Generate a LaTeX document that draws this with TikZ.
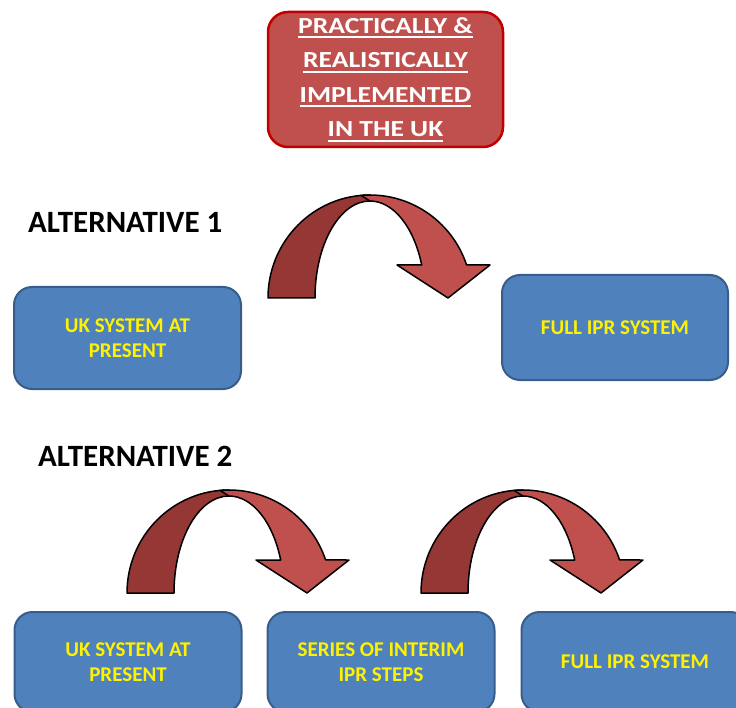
\documentclass[tikz,border=0pt]{standalone}
\usepackage{fontspec}
\setmainfont{Carlito}
\newfontfamily\widefont{Carlito}[FakeStretch=1.2]
\newcommand{\ulbar}[1]{\leavevmode\vtop{\hbox{#1}\kern3pt\hrule height 1.8pt}}
\definecolor{boxblue}{HTML}{4F81BD}
\definecolor{boxedge}{HTML}{385D8A}
\definecolor{goalred}{HTML}{C0504D}
\definecolor{goaledge}{HTML}{C00000}
\definecolor{arrowdark}{HTML}{953735}
\definecolor{arrowlight}{HTML}{C0504D}
\begin{document}
\begin{tikzpicture}[x=1pt, y=-1pt,
    bluebox/.style={draw=boxedge, line width=2pt, fill=boxblue, rounded corners=18pt,
      minimum width=227pt, minimum height=102pt, align=center, text=yellow,
      font=\fontsize{21}{25}\selectfont\bfseries},
    redbox/.style={draw=goaledge, line width=2.5pt, fill=goalred, rounded corners=20pt,
      minimum width=235pt, minimum height=135pt, align=center, text=white,
      font=\widefont\fontsize{23}{34.5}\selectfont\bfseries},
    altlabel/.style={anchor=west, inner sep=0pt, font=\fontsize{31}{37}\selectfont\bfseries},
    bandedge/.style={draw=black, line width=1.5pt, line join=round}]
  \useasboundingbox (0,0) rectangle (736,708);
  \clip (0,0) rectangle (736,708);

  % heading
  \node (goal) [redbox] at (385.5,79.5)
    {\ulbar{PRACTICALLY \&}\\ \ulbar{REALISTICALLY}\\ \ulbar{IMPLEMENTED}\\ \ulbar{IN THE UK}};

  % alternative 1
  \node (alt1) [altlabel] at (28,222) {ALTERNATIVE 1};
  \node (now1) [bluebox] at (127.5,338) {UK SYSTEM AT\\ PRESENT};
  \node (full1) [bluebox, minimum height=105pt, minimum width=226pt] at (615,327.5) {FULL IPR SYSTEM};

  % alternative 2
  \node (alt2) [altlabel] at (38,456) {ALTERNATIVE 2};
  \node (now2) [bluebox, minimum height=100pt] at (128,662) {UK SYSTEM AT\\ PRESENT};
  \node (steps) [bluebox, minimum height=100pt] at (381,662) {SERIES OF INTERIM\\ IPR STEPS};
  \node (full2) [bluebox, minimum height=100pt] at (635,662) {FULL IPR SYSTEM};

  % curved block arrows
  \foreach \cx/\cy in {370/298, 229/593, 523/593}{
    \begin{scope}[shift={(\cx,\cy)}, yscale=-1]
      \path[bandedge, fill=arrowdark]
        (-102,0) arc[start angle=180, end angle=90, x radius=102, y radius=103]
        -- (0,97) arc[start angle=90, end angle=180, x radius=55, y radius=97] -- cycle;
      \path[bandedge, fill=arrowlight]
        (95:102 and 103) arc[start angle=95, end angle=18.7, x radius=102, y radius=103]
        -- (120,33) -- (78,0) -- (27,33) -- (51.7,33)
        arc[start angle=19.9, end angle=90, x radius=55, y radius=97] -- cycle;
    \end{scope}
  }
\end{tikzpicture}
\end{document}
